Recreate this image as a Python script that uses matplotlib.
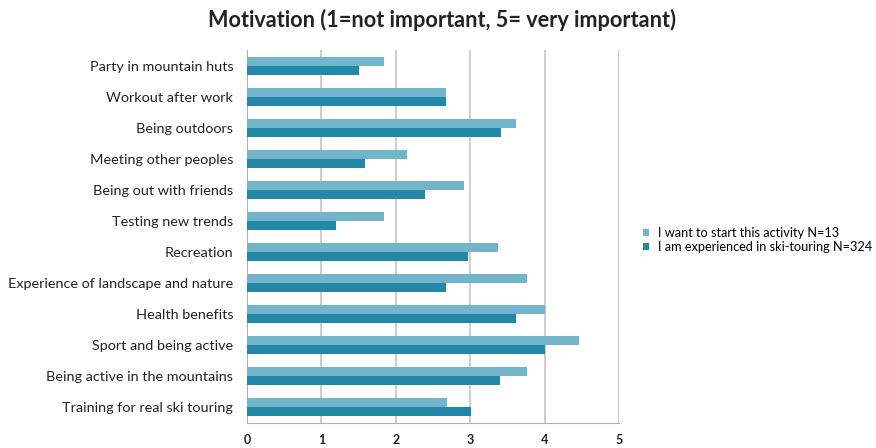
import matplotlib.pyplot as plt
import numpy as np

plt.rcParams['font.family'] = ['Lato', 'DejaVu Sans']

# категории сверху вниз
categories = ["Party in mountain huts", "Workout after work", "Being outdoors",
              "Meeting other peoples", "Being out with friends", "Testing new trends",
              "Recreation", "Experience of landscape and nature", "Health benefits",
              "Sport and being active", "Being active in the mountains",
              "Training for real ski touring"]
start_vals = [1.84, 2.68, 3.61, 2.15, 2.92, 1.84, 3.37, 3.76, 4.0, 4.46, 3.76, 2.69]
exp_vals = [1.50, 2.68, 3.42, 1.59, 2.39, 1.20, 2.97, 2.67, 3.61, 4.0, 3.40, 3.01]
series_names = ["I want to start this activity N=13",
                "I am experienced in ski-touring N=324"]
x_ticks = [0, 1, 2, 3, 4, 5]

fig = plt.figure(figsize=(8.76, 4.48), dpi=100)
ax = fig.add_axes([0.282, 0.0565, 0.4246, 0.8315])

y = np.arange(len(categories))
h = 0.29
ax.barh(y - h / 2, start_vals, height=h, color="#72B4C9", label=series_names[0], zorder=3)
ax.barh(y + h / 2, exp_vals, height=h, color="#2388A8", label=series_names[1], zorder=3)

ax.set_ylim(len(categories) - 0.5, -0.5)
ax.set_xlim(0, 5)
ax.set_yticks(y)
ax.set_yticklabels(categories, fontsize=10.4, color="#222222")
ax.set_xticks(x_ticks)
ax.set_xticklabels([str(t) for t in x_ticks], fontsize=9, fontweight="bold", color="#222222")
ax.tick_params(axis="both", length=0)
ax.tick_params(axis="y", pad=10)
ax.tick_params(axis="x", pad=8)

ax.grid(axis="x", color="#C4C4C4", linewidth=1.2, zorder=0)
for s in ["top", "right"]:
    ax.spines[s].set_visible(False)
ax.spines["left"].set_color("#B0B0B0")
ax.spines["bottom"].set_color("#B0B0B0")

fig.text(0.505, 0.955, "Motivation (1=not important, 5= very important)",
         ha="center", va="center", fontsize=15.6, fontweight="bold", color="#222222")

fig.legend(loc="center left", bbox_to_anchor=(0.734, 0.464), frameon=False,
           fontsize=9.2, handlelength=0.45, handleheight=0.45, handletextpad=0.75,
           labelspacing=0.15, borderpad=0, borderaxespad=0)

fig.savefig("out.png", dpi=100)
